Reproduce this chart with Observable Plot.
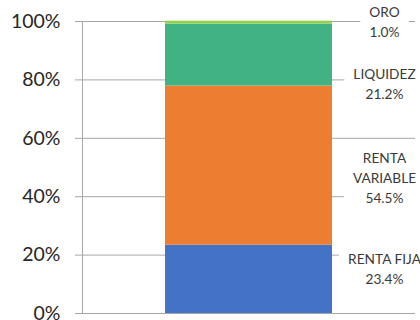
<!DOCTYPE html>
<html>
<head>
<meta charset="utf-8">
<script src="https://cdn.jsdelivr.net/npm/d3@7"></script>
<script src="https://cdn.jsdelivr.net/npm/@observablehq/plot@0.6"></script>
<style>
  html, body { margin: 0; padding: 0; background: #fff; }
  #chart { width: 420px; height: 320px; overflow: hidden; }
</style>
</head>
<body>
<div id="chart"></div>
<script>
// Portfolio allocation, bottom to top of the stacked bar
const categories = ["RENTA FIJA", "RENTA VARIABLE", "LIQUIDEZ", "ORO"];
const shares = [23.4, 54.5, 21.2, 1.0];
const colors = ["#4472C4", "#ED7D31", "#41B383", "#92D050"];
const yTicks = [0, 20, 40, 60, 80, 100];
const portfolio = "Cartera";

const rows = categories.map((name, i) => ({ portfolio, name, value: shares[i] }));

// Vertical placement of each callout (in axis percent), beside the bar
const calloutAt = { "RENTA FIJA": 15.7, "RENTA VARIABLE": 46.9, "LIQUIDEZ": 79.1, "ORO": 100.3 };

const gridColor = "#a6a6a6";
const font = "Lato, 'Open Sans', sans-serif";

const chart = Plot.plot({
  width: 420,
  height: 320,
  marginLeft: 82,
  marginRight: 5,
  marginTop: 21,
  marginBottom: 7,
  style: { fontFamily: font, background: "#fff", overflow: "visible" },
  x: { domain: [portfolio], padding: 0.332, axis: null },
  y: { domain: [0, 100] },
  color: { domain: categories, range: colors },
  marks: [
    Plot.gridY(yTicks, { stroke: gridColor, strokeOpacity: 1, strokeWidth: 1 }),
    Plot.frame({ anchor: "left", stroke: gridColor, strokeWidth: 1 }),
    Plot.axisY(yTicks, {
      tickSize: 7,
      tickPadding: 15,
      stroke: gridColor,
      fill: "#262626",
      fontSize: 19.5,
      tickFormat: d => d + "%",
      label: null
    }),
    Plot.barY(rows, Plot.stackY({ x: "portfolio", y: "value", fill: "name" })),
    Plot.text(rows, {
      x: "portfolio",
      y: d => calloutAt[d.name],
      dx: 135.5,
      text: d => d.name + "\n" + d.value.toFixed(1) + "%",
      lineWidth: 7,
      lineHeight: 1.45,
      lineAnchor: "middle",
      textAnchor: "middle",
      fontSize: 13.7,
      fill: "#3a3a3a"
    })
  ]
});

document.getElementById("chart").append(chart);

// White boxes behind the callouts so the gridlines stop at their edges
const svgNS = "http://www.w3.org/2000/svg";
chart.querySelectorAll('g[aria-label="text"] text').forEach(t => {
  const b = t.getBBox();
  const r = document.createElementNS(svgNS, "rect");
  r.setAttribute("x", b.x - 9);
  r.setAttribute("y", b.y - 2);
  r.setAttribute("width", b.width + 18);
  r.setAttribute("height", b.height + 4);
  r.setAttribute("fill", "#fff");
  if (t.getAttribute("transform")) r.setAttribute("transform", t.getAttribute("transform"));
  t.parentNode.insertBefore(r, t);
});
</script>
</body>
</html>
